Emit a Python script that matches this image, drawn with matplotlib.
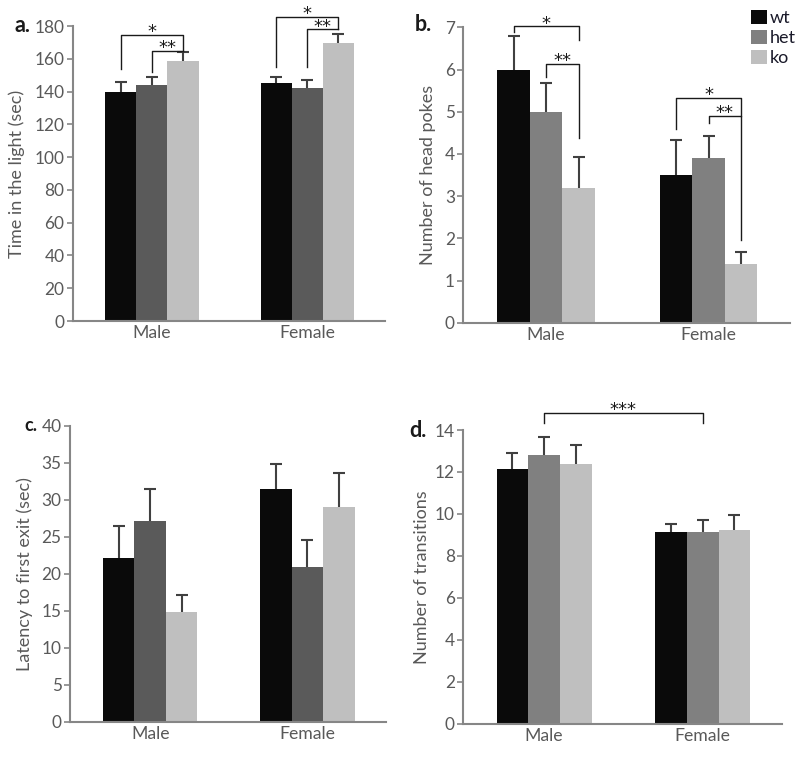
import numpy as np
import matplotlib.pyplot as plt
from matplotlib.patches import Patch

plt.rcParams['font.family'] = ['Lato', 'DejaVu Sans']

sexes = ['Male', 'Female']
genotypes = ['wt', 'het', 'ko']

# a. time in the light (sec): mean and upper error, [Male, Female]
light_mean = {'wt': [140, 145], 'het': [144, 142], 'ko': [159, 170]}
light_err = {'wt': [6, 4], 'het': [5, 5], 'ko': [5, 5]}

# b. number of head pokes
pokes_mean = {'wt': [6.0, 3.5], 'het': [5.0, 3.9], 'ko': [3.2, 1.4]}
pokes_err = {'wt': [0.8, 0.82], 'het': [0.67, 0.53], 'ko': [0.73, 0.27]}

# c. latency to first exit (sec)
latency_mean = {'wt': [22.2, 31.5], 'het': [27.1, 21.0], 'ko': [14.8, 29.0]}
latency_err = {'wt': [4.3, 3.3], 'het': [4.4, 3.6], 'ko': [2.3, 4.6]}

# d. number of transitions
trans_mean = {'wt': [12.15, 9.15], 'het': [12.8, 9.15], 'ko': [12.4, 9.25]}
trans_err = {'wt': [0.75, 0.35], 'het': [0.85, 0.55], 'ko': [0.9, 0.7]}

# brackets: (sex_a, geno_a, sex_b, geno_b, y_left, y_top, y_right, label)
light_brackets = [
    (0, 'wt', 0, 'ko', 154, 174.5, 165, '*'),
    (0, 'het', 0, 'ko', 152, 165, 165, '**'),
    (1, 'wt', 1, 'ko', 155, 185.5, 178, '*'),
    (1, 'het', 1, 'ko', 155, 178, 178, '**'),
]
pokes_brackets = [
    (0, 'wt', 0, 'ko', 6.9, 7.02, 6.69, '*'),
    (0, 'het', 0, 'ko', 5.82, 6.14, 4.37, '**'),
    (1, 'wt', 1, 'ko', 4.6, 5.32, 4.89, '*'),
    (1, 'het', 1, 'ko', 4.73, 4.89, 1.96, '**'),
]
trans_brackets = [
    (0, 'het', 1, 'het', 14.33, 14.8, 14.33, '***'),
]

colors_dark = {'wt': '#0a0a0a', 'het': '#5a5a5a', 'ko': '#bfbfbf'}
colors_mid = {'wt': '#0a0a0a', 'het': '#808080', 'ko': '#bfbfbf'}
text_gray = '#595959'
spine_gray = '#868686'
width = 0.2


def draw_panel(ax, means, errs, colors, ylim, yticks, ylabel, labelpad, brackets=None):
    x = np.arange(len(sexes))
    centers = {}
    for k, g in enumerate(genotypes):
        pos = x + (k - 1) * width
        ax.bar(pos, means[g], width=width, color=colors[g], zorder=2)
        eb = ax.errorbar(pos, means[g], yerr=[np.zeros(len(sexes)), errs[g]], fmt='none',
                         ecolor='#404040', elinewidth=1.5, capsize=4, capthick=1.5, zorder=3)
        eb[1][0].set_visible(False)  # no cap at the bar top
        centers[g] = pos
    ax.set_xlim(-0.51, 1.5)
    ax.set_ylim(*ylim)
    ax.set_yticks(yticks)
    ax.set_xticks(x)
    ax.set_xticklabels(sexes, fontsize=12.7, color=text_gray)
    ax.tick_params(axis='x', length=0, pad=3)
    ax.tick_params(axis='y', labelsize=12.4, labelcolor=text_gray, color=spine_gray,
                   length=4, width=1.2, pad=2)
    for s in ['top', 'right']:
        ax.spines[s].set_visible(False)
    for s in ['left', 'bottom']:
        ax.spines[s].set_color(spine_gray)
        ax.spines[s].set_linewidth(1.5)
    ax.set_ylabel(ylabel, fontsize=13, color=text_gray, labelpad=labelpad)
    if brackets:
        for sa, ga, sb, gb, yl, yt, yr, lab in brackets:
            xa = centers[ga][sa]
            xb = centers[gb][sb]
            ax.plot([xa, xa, xb, xb], [yl, yt, yt, yr], color='#1a1a1a', lw=1,
                    clip_on=False, zorder=4)
            ax.annotate(lab, ((xa + xb) / 2, yt), xytext=(0, -1.5), textcoords='offset points',
                        ha='center', va='baseline', fontsize=13, color='#1a1a1a',
                        family='DejaVu Sans', annotation_clip=False)


fig = plt.figure(figsize=(8, 7.58), dpi=100)
ax_a = fig.add_axes([0.091, 0.5765, 0.39, 0.389])
ax_b = fig.add_axes([0.579, 0.574, 0.4085, 0.39])
ax_c = fig.add_axes([0.0875, 0.0475, 0.395, 0.3905])
ax_d = fig.add_axes([0.579, 0.045, 0.3985, 0.3877])

draw_panel(ax_a, light_mean, light_err, colors_dark, (0, 180), range(0, 181, 20),
           'Time in the light (sec)', 7, light_brackets)
draw_panel(ax_b, pokes_mean, pokes_err, colors_mid, (0, 7), range(0, 8),
           'Number of head pokes', 6, pokes_brackets)
draw_panel(ax_c, latency_mean, latency_err, colors_dark, (0, 40), range(0, 41, 5),
           'Latency to first exit (sec)', 6)
draw_panel(ax_d, trans_mean, trans_err, colors_mid, (0, 14), range(0, 15, 2),
           'Number of transitions', 3.5, trans_brackets)

panel_letters = [('a.', 0.018, 0.967, 15.5), ('b.', 0.519, 0.968, 15.5),
                 ('c.', 0.030, 0.439, 13), ('d.', 0.511, 0.432, 15.5)]
for letter, lx, ly, fs in panel_letters:
    fig.text(lx, ly, letter, fontsize=fs, fontweight='bold', ha='left', va='center',
             color='#1a1a1a')

handles = [Patch(facecolor=colors_mid[g], edgecolor='none') for g in genotypes]
fig.legend(handles, genotypes, loc='upper left', bbox_to_anchor=(0.939, 0.987),
           frameon=False, fontsize=13, handlelength=0.85, handleheight=0.85,
           handletextpad=0.2, labelspacing=0.2, borderpad=0, borderaxespad=0,
           labelcolor='#1a1a2a')

fig.savefig('out.png', dpi=100)
